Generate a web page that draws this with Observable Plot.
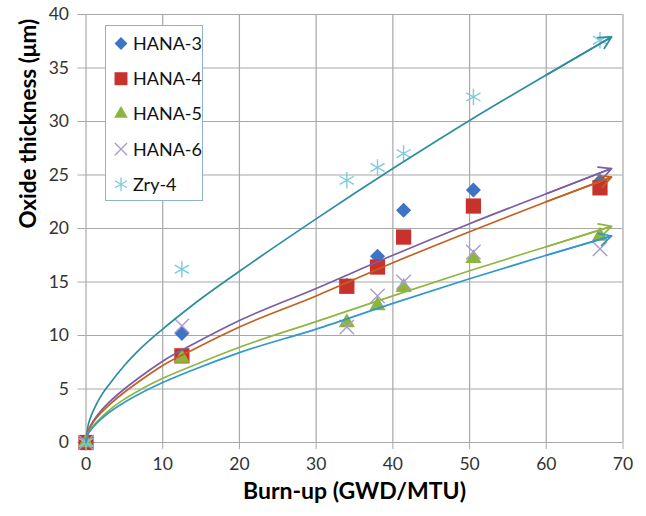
<!DOCTYPE html>
<html>
<head>
<meta charset="utf-8">
<script src="https://cdn.jsdelivr.net/npm/d3@7"></script>
<script src="https://cdn.jsdelivr.net/npm/@observablehq/plot@0.6"></script>
<style>
  body { margin: 0; background: #fff; }
  #wrap { position: relative; width: 646px; height: 516px; font-family: Lato, "DejaVu Sans", sans-serif; }
  #legend { position: absolute; left: 105px; top: 25px; width: 96px; height: 174px; border: 1px solid #8fb0d8; background: #fff; }
</style>
</head>
<body>
<div id="wrap"><div id="chart"></div><div id="legend"></div></div>
<script>
// ---- data ----
const seriesNames = ["HANA-3", "HANA-4", "HANA-5", "HANA-6", "Zry-4"];
const burnup = [0, 12.5, 34, 38, 41.4, 50.5, 67];
const hana3 = [0, 10.2, 14.7, 17.4, 21.7, 23.6, 24.4];
const hana4 = [0, 8.1, 14.6, 16.4, 19.2, 22.1, 23.8];
const hana5 = [0, 7.9, 11.2, 12.8, 14.5, 17.2, 19.3];
const hana6 = [0, 10.9, 10.8, 13.7, 15.0, 17.8, 18.1];
const zry4 = [0, 16.2, 24.5, 25.7, 27.0, 32.3, 37.6];

// trend lines (power-type fits)
const trendX = [0, 0.25, 0.5, 1, 2, 3, 5, 7, 10, 14, 20, 30, 40, 50, 60, 68.5];
const trendHana3 = [0, 0.75, 1.05, 1.5, 2.2, 2.8, 3.75, 4.55, 5.6, 6.8, 8.4, 10.6, 13.0, 15.3, 17.5, 19.3];
const trendHana4 = [0, 0.95, 1.35, 1.95, 2.8, 3.5, 4.7, 5.75, 7.2, 8.7, 10.8, 13.7, 16.8, 19.7, 22.5, 24.8];
const trendHana5 = [0, 0.8, 1.1, 1.6, 2.35, 3.0, 4.05, 4.9, 6.0, 7.2, 8.9, 11.3, 13.7, 16.05, 18.3, 20.2];
const trendHana6 = [0, 1.0, 1.45, 2.05, 3.0, 3.75, 5.0, 6.1, 7.6, 9.2, 11.4, 14.4, 17.5, 20.45, 23.25, 25.6];
const trendZry4 = [0, 1.5, 2.15, 3.05, 4.4, 5.4, 7.2, 8.7, 10.6, 12.9, 16.0, 20.9, 25.6, 30.1, 34.35, 37.9];

const xTicks = [0, 10, 20, 30, 40, 50, 60, 70];
const yTicks = [0, 5, 10, 15, 20, 25, 30, 35, 40];
const xTitle = "Burn-up (GWD/MTU)";
const yTitle = "Oxide thickness (\u03bcm)";

// ---- styles ----
const markerSymbols = ["diamond2", "square", "triangle", "times", "asterisk"];
const markerColors = ["#3e74c6", "#c8322c", "#8db43c", "#a99bd2", "#7ecbdc"];
const markerR = [6.8, 8.6, 6.0, 6.6, 7.8];
const trendColors = ["#2f98cc", "#c2611f", "#8fb640", "#7b5ca6", "#2b8e9f"];

const valueSets = [hana3, hana4, hana5, hana6, zry4];
const trendSets = [trendHana3, trendHana4, trendHana5, trendHana6, trendZry4];

const points = seriesNames.flatMap((s, i) => burnup.map((b, j) => ({series: s, i, x: b, y: valueSets[i][j]})));
const trends = seriesNames.flatMap((s, i) => trendX.map((t, j) => ({series: s, i, x: t, y: trendSets[i][j]})));
const arrows = seriesNames.map((s, i) => {
  const n = trendX.length;
  return {series: s, i, x1: trendX[n - 2], y1: trendSets[i][n - 2], x2: trendX[n - 1], y2: trendSets[i][n - 1]};
});

const grid = "#a8a8a8";
const marks = [
  Plot.ruleX(xTicks, {stroke: grid, strokeWidth: 1.2}),
  Plot.ruleY(yTicks, {stroke: grid, strokeWidth: 1.2}),
  Plot.axisX({ticks: xTicks, tickSize: 7, tickPadding: 8, fontSize: 17.5, stroke: grid, fill: "#333", label: null}),
  Plot.axisY({ticks: yTicks, tickSize: 8, tickPadding: 9, fontSize: 17.5, stroke: grid, fill: "#333", label: null}),
];
seriesNames.forEach((s, i) => {
  const sym = markerSymbols[i];
  const filled = !(sym === "times" || sym === "asterisk");
  marks.push(Plot.dot(points.filter(d => d.i === i), {
    x: "x", y: "y", symbol: () => sym, r: markerR[i],
    fill: filled ? markerColors[i] : "none",
    stroke: filled ? "none" : markerColors[i],
    strokeWidth: filled ? 0 : 1.4
  }));
});
[4, 3, 1, 2, 0].forEach(i => {
  marks.push(Plot.line(trends.filter(d => d.i === i), {x: "x", y: "y", stroke: trendColors[i], strokeWidth: 1.7, curve: "monotone-x"}));
  marks.push(Plot.arrow(arrows.filter(d => d.i === i), {x1: "x1", y1: "y1", x2: "x2", y2: "y2", stroke: trendColors[i], strokeWidth: 1.7, headLength: 12, headAngle: 55, insetEnd: 0, insetStart: 0}));
});
marks.push(Plot.text([xTitle], {frameAnchor: "bottom", dy: 56, fontSize: 23, fontWeight: "bold", fill: "#000", text: d => d}));
marks.push(Plot.text([yTitle], {frameAnchor: "left", dx: -57, rotate: -90, fontSize: 22.5, fontWeight: "bold", fill: "#000", text: d => d}));

const chart = Plot.plot({
  width: 646, height: 516,
  marginLeft: 85.5, marginRight: 23.5, marginTop: 14, marginBottom: 74,
  x: {domain: [0, 70]},
  y: {domain: [0, 40]},
  style: {fontFamily: "Lato, 'DejaVu Sans', sans-serif", background: "#fff", overflow: "visible"},
  marks
});
document.getElementById("chart").appendChild(chart);

// ---- legend ----
const lg = d3.select("#legend").append("svg").attr("width", 96).attr("height", 174);
const symMap = {diamond2: d3.symbolDiamond2, square: d3.symbolSquare, triangle: d3.symbolTriangle, times: d3.symbolTimes, asterisk: d3.symbolAsterisk};
seriesNames.forEach((s, i) => {
  const cy = 17.5 + i * 35.2;
  const sym = markerSymbols[i];
  const filled = !(sym === "times" || sym === "asterisk");
  const size = Math.PI * Math.pow(markerR[i] * 0.85, 2);
  lg.append("path").attr("d", d3.symbol(symMap[sym], size)()).attr("transform", `translate(15,${cy})`)
    .attr("fill", filled ? markerColors[i] : "none").attr("stroke", filled ? "none" : markerColors[i]).attr("stroke-width", 1.3);
  lg.append("text").attr("x", 27).attr("y", cy).attr("dy", "0.36em").attr("font-size", 18).attr("fill", "#111")
    .attr("font-family", "Lato, 'DejaVu Sans', sans-serif").text(s);
});
</script>
</body>
</html>
